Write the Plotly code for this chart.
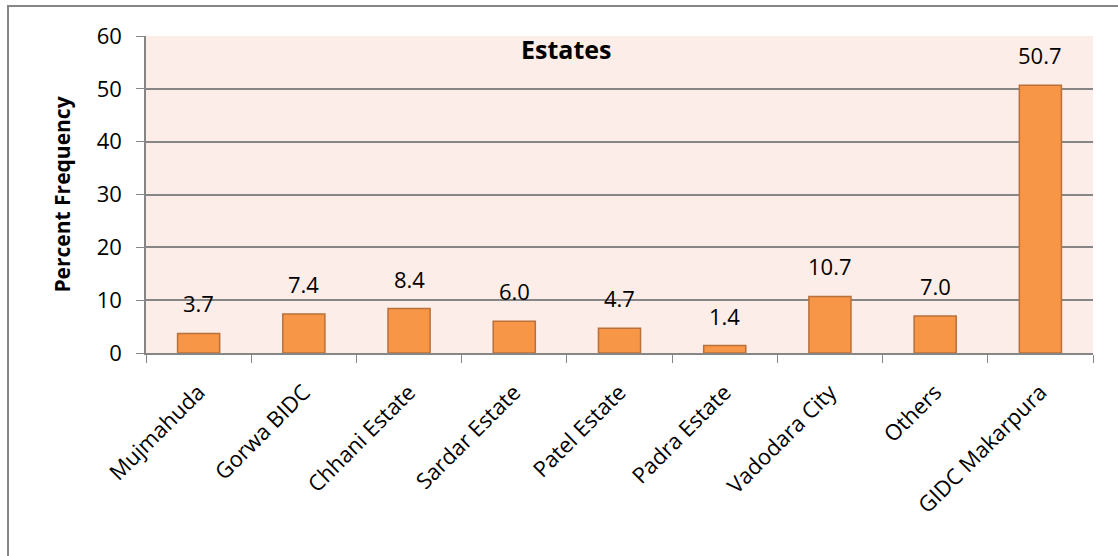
import plotly.graph_objects as go

# Estate-wise percent frequency
estates = ["Mujmahuda", "Gorwa BIDC", "Chhani Estate", "Sardar Estate", "Patel Estate",
           "Padra Estate", "Vadodara City", "Others", "GIDC Makarpura"]
percent = [3.7, 7.4, 8.4, 6.0, 4.7, 1.4, 10.7, 7.0, 50.7]
y_ticks = [0, 10, 20, 30, 40, 50, 60]

FONT = "Open Sans"
GRID = "#868686"

fig = go.Figure()
fig.add_trace(go.Bar(
    x=estates, y=percent,
    marker=dict(color="#F79646", line=dict(color="#B9703A", width=1.5)),
    width=0.4,
    hoverinfo="x+y",
))

# value labels above each bar
for name, val in zip(estates, percent):
    fig.add_annotation(x=name, y=val, text=f"{val:.1f}", showarrow=False,
                       yanchor="bottom", yshift=13,
                       font=dict(family=FONT, size=22, color="#000000"))

fig.add_annotation(xref="paper", yref="paper", x=0.443, y=1.0, yshift=6, text="<b>Estates</b>",
                   showarrow=False, yanchor="top", xanchor="center",
                   font=dict(family=FONT, size=25, color="#000000"))

# chart frame
fig.add_shape(type="rect", xref="paper", yref="paper",
              x0=-0.1457, y0=-0.66, x1=1.03, y1=1.0946,
              line=dict(color=GRID, width=2), layer="below")

fig.update_layout(
    width=1118, height=556,
    margin=dict(l=146, r=25, t=36, b=203),
    paper_bgcolor="#FFFFFF",
    plot_bgcolor="#FDEDE8",
    showlegend=False,
    font=dict(family=FONT, size=22, color="#000000"),
    xaxis=dict(
        tickangle=-45, showgrid=False, showline=True, linecolor=GRID, linewidth=1.5,
        ticks="outside", ticklen=8, tickcolor=GRID, tickson="boundaries",
        tickfont=dict(family=FONT, size=22), ticklabelstandoff=16, fixedrange=True,
    ),
    yaxis=dict(
        range=[0, 60], tickvals=y_ticks, showgrid=True, gridcolor=GRID, gridwidth=1.5,
        showline=True, linecolor=GRID, linewidth=1.5, zeroline=False,
        ticks="outside", ticklen=8, tickcolor=GRID,
        tickfont=dict(family=FONT, size=22), ticklabelstandoff=10,
        title=dict(text="<b>Percent Frequency</b>", font=dict(family=FONT, size=21), standoff=20),
        fixedrange=True,
    ),
)

fig.write_html("out.html")
